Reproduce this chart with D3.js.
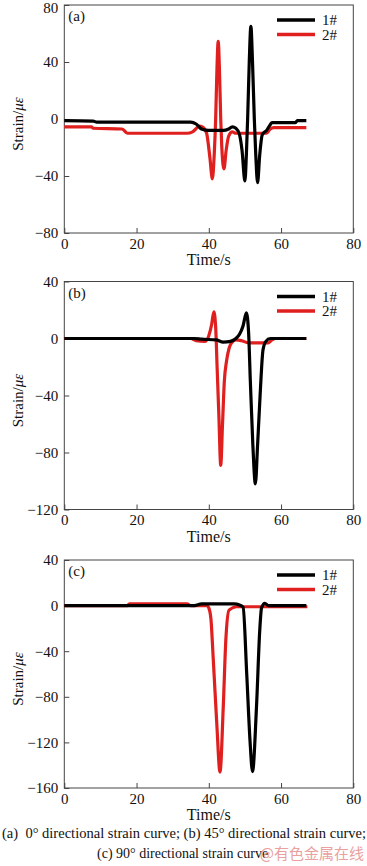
<!DOCTYPE html>
<html>
<head>
<meta charset="utf-8">
<script src="https://cdn.jsdelivr.net/npm/d3@7"></script>
<style>
	body { margin: 0; background: #fff; }
	svg { display: block; font-family: "Liberation Serif", "Times New Roman", serif; }
</style>
</head>
<body>
<svg class="chart"></svg>
<script>
const size = { w: 367, h: 866 };

// time range of every panel (seconds)
const timeDomain = [0, 80];
const timeTicks = [0, 20, 40, 60, 80];

// strain ranges / ticks for the three panels
const strainDomainA = [-80, 80];
const strainTicksA = [-80, -40, 0, 40, 80];
const strainDomainB = [-120, 40];
const strainTicksB = [-120, -80, -40, 0, 40];
const strainDomainC = [-160, 40];
const strainTicksC = [-160, -120, -80, -40, 0, 40];

const seriesNames = ["1#", "2#"];
const seriesColors = ["#000000", "#e01f1f"];
const panelLabels = ["(a)", "(b)", "(c)"];

// (a) 0 degree direction, [time, strain]
const curveA1 = [[0,-1.2],[8,-1.5],[9,-2.2],[35,-2.2],[36.5,-3.5],[38,-7],[40,-8],[44,-8],[45.5,-7],[46.5,-5.5],[47.5,-6.5],[48.5,-11],[49.2,-22],[50,-43.5],[50.4,-25],[50.75,0],[51.2,40],[51.65,65],[52.1,40],[52.6,0],[53,-25],[53.5,-44.7],[54.1,-25],[54.8,-11],[56,-8],[57,-4],[57.5,-2.5],[64,-2.5],[64.5,-1.2],[67,-1.2]];
const curveA2 = [[0,-5.5],[7.5,-5.5],[8,-6.5],[16,-7],[17.5,-10],[34,-10],[35.5,-9],[37.5,-5],[38.5,-6],[39.4,-10],[40.3,-27],[41,-42],[41.5,-25],[41.9,0],[42.2,30],[42.6,54.5],[43,30],[43.3,0],[43.6,-20],[44.2,-35],[44.8,-22],[45.5,-12],[46.5,-9],[47.5,-10],[56,-10],[57,-7],[58,-6],[67,-6]];

// (b) 45 degree direction
const curveB1 = [[0,0],[36,0],[38,-0.5],[42,-1],[44,-2.5],[46,-2],[47.5,0],[48.5,3],[49.5,9],[50.4,18],[51,5],[51.5,-30],[52.2,-75],[52.9,-102],[53.5,-75],[54.2,-40],[55,-8],[55.8,-2],[57,0],[67,0]];
const curveB2 = [[0,0],[35,0],[36.5,-1.5],[39,-2],[40,2],[40.8,10],[41.4,18.7],[41.9,8],[42.3,-20],[42.8,-55],[43.3,-89],[43.8,-60],[44.3,-30],[44.9,-16],[45.6,-7],[46.3,-3],[47.5,-1],[49,-1.5],[51,-3],[56.5,-3],[57.5,-1],[58.5,0],[67,0]];

// (c) 90 degree direction
const curveC1 = [[0,0],[36,0],[38,1.5],[47,1.5],[48.5,0.5],[49.5,-1.5],[50.5,-60],[51.4,-118],[52.1,-145.6],[53.2,-89],[54.1,-22],[54.6,-2],[55.5,2],[56.5,0],[67,0]];
const curveC2 = [[0,0],[17.5,0],[18,1.5],[34,1.5],[35,0],[39.5,0],[40,-2],[40.6,-12],[41.2,-45],[42.2,-103],[43.1,-146],[44,-89],[44.7,-31],[45.6,-4],[47.7,-1],[67.3,-1]];

const panels = [
	{ top: 5, domain: strainDomainA, ticks: strainTicksA, curves: [curveA1, curveA2] },
	{ top: 281.5, domain: strainDomainB, ticks: strainTicksB, curves: [curveB1, curveB2] },
	{ top: 560, domain: strainDomainC, ticks: strainTicksC, curves: [curveC1, curveC2] },
];

const plot = { left: 64.3, right: 353.3, h: 228 };

const svg = d3.select("svg.chart").attr("width", size.w).attr("height", size.h);

const xScale = d3.scaleLinear().domain(timeDomain).range([plot.left, plot.right]);

panels.forEach(function (p, i) {
	const g = svg.append("g").attr("transform", `translate(0,${p.top})`);
	const yScale = d3.scaleLinear().domain(p.domain).range([plot.h, 0]);

	// frame
	g.append("rect")
		.attr("x", plot.left)
		.attr("y", 0)
		.attr("width", plot.right - plot.left)
		.attr("height", plot.h)
		.attr("fill", "none")
		.attr("stroke", "#444")
		.attr("stroke-width", 1);

	// x axis, ticks pointing inside
	const xAxis = g.append("g")
		.attr("transform", `translate(0,${plot.h})`)
		.call(d3.axisBottom(xScale).tickValues(timeTicks).tickSizeInner(-5).tickSizeOuter(0).tickPadding(5));
	xAxis.select(".domain").remove();

	const yAxis = g.append("g")
		.attr("transform", `translate(${plot.left},0)`)
		.call(d3.axisLeft(yScale).tickValues(p.ticks).tickSizeInner(-5).tickSizeOuter(0).tickPadding(6));
	yAxis.select(".domain").remove();

	g.selectAll(".tick line").attr("stroke", "#444");
	g.selectAll(".tick text").attr("font-size", 15).attr("font-family", "Liberation Serif, serif").attr("fill", "#111");
	// keep the topmost label of the first panel inside the page
	if (i === 0) {
		yAxis.selectAll(".tick text").filter((d) => d === p.domain[1]).attr("dy", "0.5em");
	}

	// axis titles
	g.append("text")
		.attr("x", (plot.left + plot.right) / 2)
		.attr("y", plot.h + 32)
		.attr("text-anchor", "middle")
		.attr("font-size", 16)
		.attr("fill", "#111")
		.text("Time/s");

	const yTitle = g.append("text")
		.attr("transform", `translate(23,${plot.h / 2 + 5}) rotate(-90)`)
		.attr("text-anchor", "middle")
		.attr("font-size", 15)
		.attr("fill", "#111");
	yTitle.append("tspan").text("Strain/");
	yTitle.append("tspan").attr("font-style", "italic").text("με");

	// panel label
	g.append("text")
		.attr("x", plot.left + 4)
		.attr("y", 16)
		.attr("font-size", 15)
		.attr("fill", "#111")
		.text(panelLabels[i]);

	// curves
	const lineFn = d3.line()
		.x((d) => xScale(d[0]))
		.y((d) => yScale(d[1]))
		.curve(d3.curveMonotoneX);

	g.selectAll("path.curve")
		.data(p.curves)
		.join("path")
		.classed("curve", true)
		.attr("d", (d) => lineFn(d))
		.attr("fill", "none")
		.attr("stroke", (d, k) => seriesColors[k])
		.attr("stroke-width", 3.2)
		.attr("stroke-linejoin", "round");
	// black curve goes on top in the original
	g.selectAll("path.curve").filter((d, k) => k === 0).raise();

	// legend
	const leg = g.selectAll("g.legend")
		.data(seriesNames)
		.join("g")
		.classed("legend", true)
		.attr("transform", (d, k) => `translate(277,${15 + k * 14.5})`);
	leg.append("line")
		.attr("x1", 0).attr("x2", 38)
		.attr("stroke", (d, k) => seriesColors[k])
		.attr("stroke-width", 3.5);
	leg.append("text")
		.attr("x", 45)
		.attr("y", 5)
		.attr("font-size", 15)
		.attr("fill", "#111")
		.text((d) => d);
});

// caption
svg.append("text")
	.attr("x", 2)
	.attr("y", 838)
	.attr("font-size", 14)
	.attr("fill", "#111")
	.attr("textLength", 364)
	.attr("lengthAdjust", "spacingAndGlyphs")
	.text("(a)\u00a0\u00a00° directional strain curve; (b) 45° directional strain curve;");
svg.append("text")
	.attr("x", 97)
	.attr("y", 858)
	.attr("font-size", 14)
	.attr("fill", "#111")
	.text("(c) 90° directional strain curve");
svg.append("text")
	.attr("x", 364)
	.attr("y", 859)
	.attr("text-anchor", "end")
	.attr("font-size", 15)
	.attr("fill", "#eaa0a0")
	.attr("font-family", "Noto Sans CJK SC, sans-serif")
	.text("@有色金属在线");
</script>
</body>
</html>
